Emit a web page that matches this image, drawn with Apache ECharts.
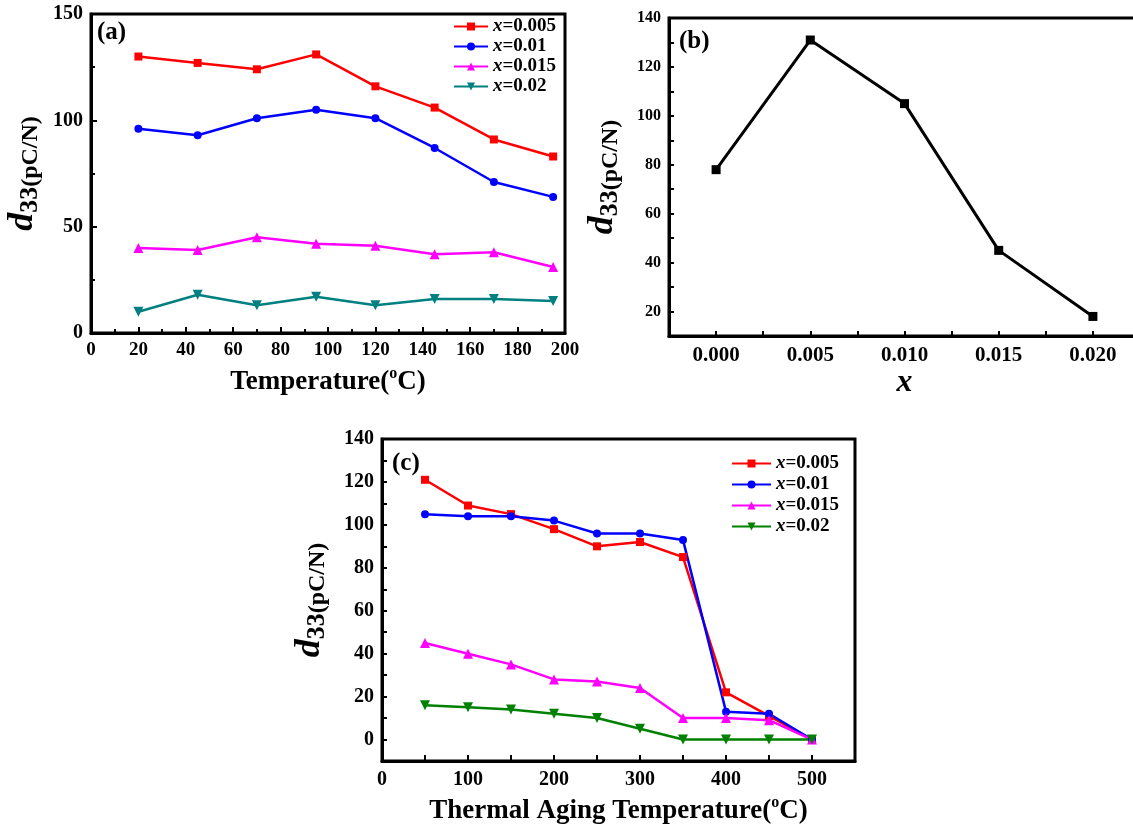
<!DOCTYPE html>
<html>
<head>
<meta charset="utf-8">
<title>d33 vs temperature and composition</title>
<script src="https://cdn.jsdelivr.net/npm/echarts@6/dist/echarts.min.js"></script>
<style>
  html, body { margin: 0; padding: 0; background: #fff; }
  #chart { width: 1133px; height: 829px; }
</style>
</head>
<body>
<div id="chart"></div>
<script>
// (a) d33 vs measuring temperature
const tempA = [20, 45, 70, 95, 120, 145, 170, 195];
const a005 = [130, 127, 124, 131, 116, 106, 91, 83];
const a01 = [96, 93, 101, 105, 101, 87, 71, 64];
const a015 = [40, 39, 45, 42, 41, 37, 38, 31];
const a02 = [10, 18, 13, 17, 13, 16, 16, 15];

// (b) d33 vs x
const xB = [0, 0.005, 0.01, 0.015, 0.02];
const d33B = [78, 131, 105, 45, 18];

// (c) d33 after thermal aging
const tempC = [50, 100, 150, 200, 250, 300, 350, 400, 450, 500];
const c005 = [121, 109, 105, 98, 90, 92, 85, 22, 11, 0];
const c01 = [105, 104, 104, 102, 96, 96, 93, 13, 12, 0];
const c015 = [45, 40, 35, 28, 27, 24, 10, 10, 9, 0];
const c02 = [16, 15, 14, 12, 10, 5, 0, 0, 0, 0];

const compLabels = ['0.005', '0.01', '0.015', '0.02'];

const SERIF = '"Liberation Serif", "Times New Roman", serif';
const DOWN_TRI = 'path://M0,0 L2,0 L1,1.8 Z';

const pairs = (xs, ys) => xs.map((x, i) => [x, ys[i]]);

const chart = echarts.init(document.getElementById('chart'), null, { renderer: 'canvas' });

// shared axis look: thick black line, inward ticks, bold serif labels
const axisBase = (extra) => Object.assign({
  type: 'value',
  axisLine: { show: true, onZero: false, lineStyle: { color: '#000', width: 3 } },
  axisTick: { show: true, inside: true, length: 6, lineStyle: { color: '#000', width: 2 } },
  splitLine: { show: false },
  axisLabel: {
    color: '#000', fontFamily: SERIF, fontWeight: 'bold', fontSize: 19, margin: 8,
    showMinLabel: true, showMaxLabel: true
  },
  nameLocation: 'middle'
}, extra);

const d33Name = {
  name: '{d|d}{n|33}{u|(pC/N)}',
  nameRotate: 90,
  nameTextStyle: {
    rich: {
      d: { fontFamily: SERIF, fontStyle: 'italic', fontWeight: 'bold', fontSize: 36, color: '#000', verticalAlign: 'middle', lineHeight: 40 },
      n: { fontFamily: SERIF, fontWeight: 'bold', fontSize: 26, color: '#000', verticalAlign: 'bottom', lineHeight: 40 },
      u: { fontFamily: SERIF, fontWeight: 'bold', fontSize: 24, color: '#000', verticalAlign: 'bottom', lineHeight: 40 }
    }
  }
};

const degName = (txt) => ({
  name: '{t|' + txt + '(}{o|o}{t|C)}',
  nameTextStyle: {
    rich: {
      t: { fontFamily: SERIF, fontWeight: 'bold', fontSize: 27, color: '#000', lineHeight: 30, verticalAlign: 'bottom' },
      o: { fontFamily: SERIF, fontWeight: 'bold', fontSize: 16, color: '#000', lineHeight: 30, verticalAlign: 'top' }
    }
  }
});

const legendText = {
  rich: {
    i: { fontFamily: SERIF, fontStyle: 'italic', fontWeight: 'bold', fontSize: 19, color: '#000', lineHeight: 20 },
    v: { fontFamily: SERIF, fontWeight: 'bold', fontSize: 19, color: '#000', lineHeight: 20 }
  }
};

const styles = [
  { symbol: 'rect', size: 8 },
  { symbol: 'circle', size: 8 },
  { symbol: 'triangle', size: 10 },
  { symbol: DOWN_TRI, size: 10 }
];
const colorsA = ['#ff0000', '#0000ff', '#ff00ff', '#008080'];
const colorsC = ['#ff0000', '#0000ff', '#ff00ff', '#008000'];

const makeSeries = (prefix, xs, ys, idx, colors, axisIdx) => ({
  name: prefix + compLabels[idx],
  type: 'line',
  xAxisIndex: axisIdx,
  yAxisIndex: axisIdx,
  data: pairs(xs, ys),
  symbol: styles[idx].symbol,
  symbolSize: styles[idx].size,
  showAllSymbol: true,
  lineStyle: { color: colors[idx], width: 2.5 },
  itemStyle: { color: colors[idx] },
  emphasis: { disabled: true },
  animation: false
});

const seriesA = [a005, a01, a015, a02].map((ys, i) => makeSeries('a:', tempA, ys, i, colorsA, 0));
const seriesC = [c005, c01, c015, c02].map((ys, i) => makeSeries('c:', tempC, ys, i, colorsC, 2));

const panelTitle = (text, left, top) => ({
  text: text, left: left, top: top, padding: 0,
  textStyle: { fontFamily: SERIF, fontWeight: 'bold', fontSize: 25, color: '#000' }
});

const legendFmt = (name) => '{i|x}{v|=' + name.split(':')[1] + '}';

chart.setOption({
  backgroundColor: '#fff',
  animation: false,
  title: [
    panelTitle('(a)', 97, 20),
    panelTitle('(b)', 679, 29),
    panelTitle('(c)', 392, 451)
  ],
  legend: [
    {
      data: seriesA.map(s => s.name), orient: 'vertical', left: 453, top: 17, padding: 0,
      itemWidth: 34, itemHeight: 10, itemGap: 1, formatter: legendFmt, textStyle: legendText,
      selectedMode: false
    },
    {
      data: seriesC.map(s => s.name), orient: 'vertical', left: 731, top: 454, padding: 0,
      itemWidth: 39, itemHeight: 10, itemGap: 2, formatter: legendFmt, textStyle: legendText,
      selectedMode: false
    }
  ],
  grid: [
    { left: 91, top: 14, width: 474, height: 319, show: true, borderColor: '#000', borderWidth: 3, outerBoundsMode: 'none' },
    { left: 669, top: 18, width: 471, height: 318, show: true, borderColor: '#000', borderWidth: 3, outerBoundsMode: 'none' },
    { left: 382, top: 439, width: 473, height: 322, show: true, borderColor: '#000', borderWidth: 3, outerBoundsMode: 'none' }
  ],
  xAxis: [
    axisBase(Object.assign({
      gridIndex: 0, min: 0, max: 200, interval: 20, nameGap: 33,
      minorTick: { show: true, splitNumber: 2, length: 4, lineStyle: { color: '#000', width: 2 } }
    }, degName('Temperature'))),
    axisBase({
      gridIndex: 1, min: -0.0025, max: 0.0225, interval: 0.0025, nameGap: 30,
      name: 'x',
      nameTextStyle: { fontFamily: SERIF, fontStyle: 'italic', fontWeight: 'bold', fontSize: 32, color: '#000' },
      axisLabel: {
        color: '#000', fontFamily: SERIF, fontWeight: 'bold', fontSize: 21, margin: 9,
        formatter: (v) => {
          const k = Math.round(v / 0.0025);
          return (k % 2 === 0 && k >= 0 && k <= 8) ? (k * 0.0025).toFixed(3) : '';
        }
      },
      axisTick: { show: true, inside: true, length: 5, lineStyle: { color: '#000', width: 2 } }
    }),
    axisBase(Object.assign({
      gridIndex: 2, min: 0, max: 550, interval: 50, nameGap: 34,
      axisLabel: {
        color: '#000', fontFamily: SERIF, fontWeight: 'bold', fontSize: 20, margin: 9,
        formatter: (v) => (v % 100 === 0 && v <= 500) ? String(v) : ''
      }
    }, degName('Thermal Aging Temperature')))
  ],
  yAxis: [
    axisBase(Object.assign({
      gridIndex: 0, min: 0, max: 150, interval: 50, nameGap: 48,
      axisLabel: { color: '#000', fontFamily: SERIF, fontWeight: 'bold', fontSize: 20, margin: 8, showMinLabel: true, showMaxLabel: true },
      minorTick: { show: true, splitNumber: 2, length: 4, lineStyle: { color: '#000', width: 2 } }
    }, d33Name)),
    axisBase(Object.assign({
      gridIndex: 1, min: 10, max: 140, interval: 10, nameGap: 46,
      axisLabel: {
        color: '#000', fontFamily: SERIF, fontWeight: 'bold', fontSize: 16, margin: 8,
        formatter: (v) => (v % 20 === 0) ? String(v) : ''
      },
      axisTick: { show: true, inside: true, length: 5, lineStyle: { color: '#000', width: 2 } }
    }, d33Name)),
    axisBase(Object.assign({
      gridIndex: 2, min: -10, max: 140, interval: 10, nameGap: 52,
      axisLabel: {
        color: '#000', fontFamily: SERIF, fontWeight: 'bold', fontSize: 20, margin: 8,
        formatter: (v) => (v % 20 === 0 && v >= 0) ? String(v) : ''
      },
      axisTick: { show: true, inside: true, length: 5, lineStyle: { color: '#000', width: 2 } }
    }, d33Name))
  ],
  series: seriesA.concat([
    {
      name: 'b',
      type: 'line',
      xAxisIndex: 1,
      yAxisIndex: 1,
      data: pairs(xB, d33B),
      symbol: 'rect',
      symbolSize: 9,
      lineStyle: { color: '#000', width: 3 },
      itemStyle: { color: '#000' },
      emphasis: { disabled: true },
      animation: false
    }
  ]).concat(seriesC)
});
</script>
</body>
</html>
